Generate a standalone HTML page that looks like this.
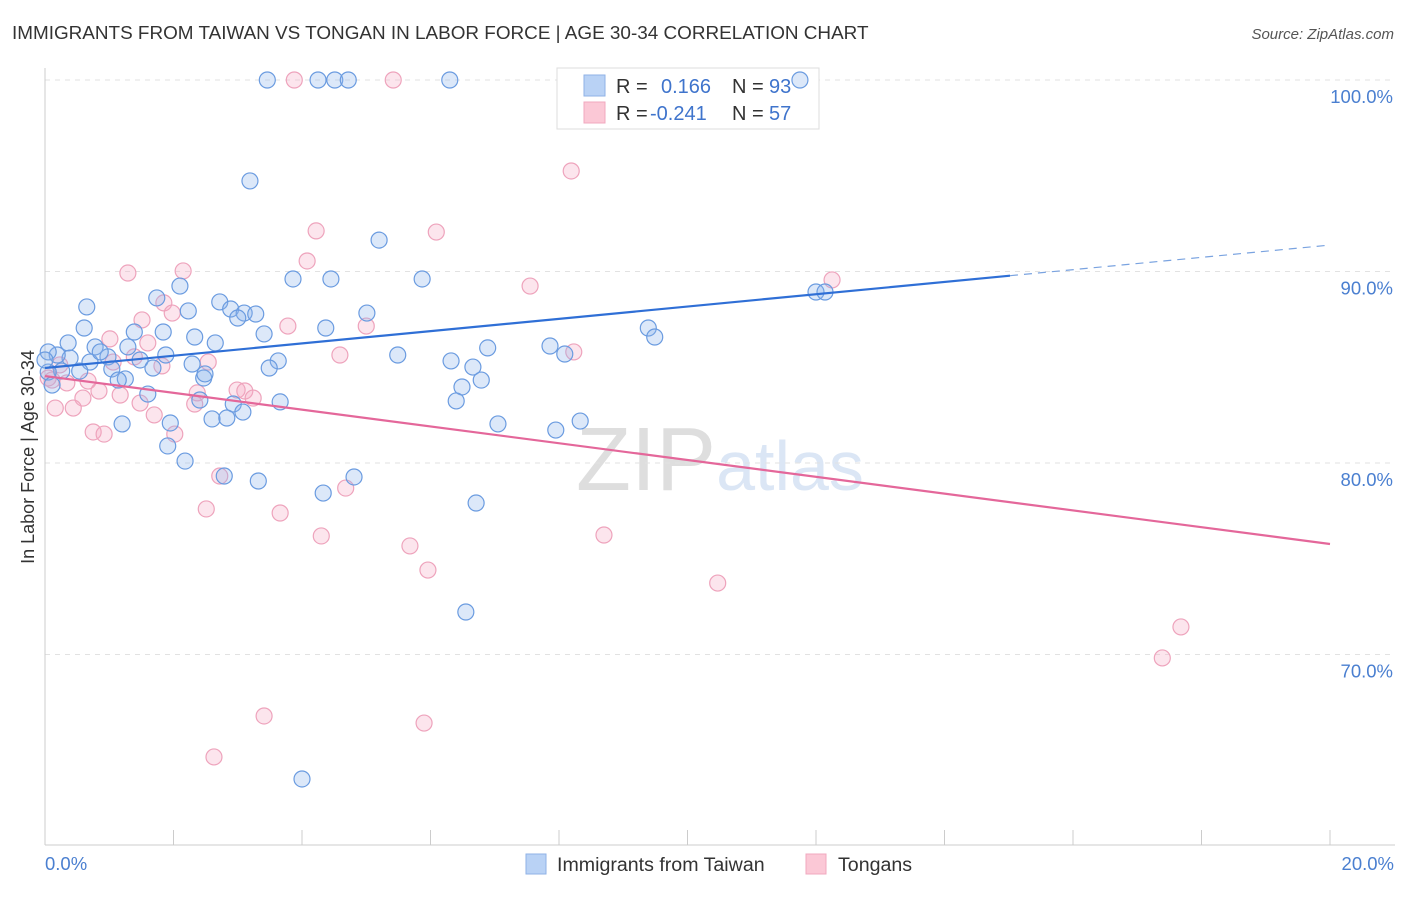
<!DOCTYPE html>
<html><head><meta charset="utf-8"><style>
body{margin:0;background:#fff;font-family:"Liberation Sans",sans-serif;}
svg text{font-family:"Liberation Sans",sans-serif;}
</style></head><body>
<svg id="chart" width="1406" height="892" viewBox="0 0 1406 892" xmlns="http://www.w3.org/2000/svg">
<text x="12" y="39" font-size="18.9" fill="#333">IMMIGRANTS FROM TAIWAN VS TONGAN IN LABOR FORCE | AGE 30-34 CORRELATION CHART</text>
<text x="1394" y="39" font-size="15" fill="#555" font-style="italic" text-anchor="end">Source: ZipAtlas.com</text>
<text x="720" y="490" font-size="90" fill="#e4e4e4" text-anchor="middle" font-family="Liberation Serif"><tspan fill="#dedede">ZIP</tspan><tspan fill="#dbe6f5" font-family="Liberation Sans" font-size="70">atlas</tspan></text>
<g id="grid"></g>
<g id="axes"></g>
<g>
<rect x="557" y="68" width="262" height="61" fill="#fff" stroke="#ddd"/>
<rect x="584" y="75" width="21" height="21" fill="#b9d2f5" stroke="#8fb2e6"/>
<rect x="584" y="102" width="21" height="21" fill="#fbc8d6" stroke="#f0a8bf"/>
<text x="616" y="93" font-size="20" fill="#333">R =</text>
<text x="661" y="93" font-size="20" fill="#3f74cc">0.166</text>
<text x="732" y="93" font-size="20" fill="#333">N =</text>
<text x="769" y="93" font-size="20" fill="#3f74cc">93</text>
<text x="616" y="120" font-size="20" fill="#333">R =</text>
<text x="650" y="120" font-size="20" fill="#3f74cc">-0.241</text>
<text x="732" y="120" font-size="20" fill="#333">N =</text>
<text x="769" y="120" font-size="20" fill="#3f74cc">57</text>
</g>
<g id="pinkPts"></g>
<g id="bluePts"></g>
<g id="trends"></g>
<text transform="translate(34,457) rotate(-90)" font-size="18" fill="#333" text-anchor="middle">In Labor Force | Age 30-34</text>
<g>
<rect x="526" y="854" width="20" height="20" fill="#b9d2f5" stroke="#8fb2e6"/>
<text x="557" y="871" font-size="19.6" fill="#333">Immigrants from Taiwan</text>
<rect x="806" y="854" width="20" height="20" fill="#fbc8d6" stroke="#f0a8bf"/>
<text x="838" y="871" font-size="19.6" fill="#333">Tongans</text>
</g>
</svg>
<script>
const blueX=[3.46,4.25,4.51,4.72,6.30,11.75,3.19,5.20,3.86,4.45,5.87,2.10,0.65,1.74,2.72,2.23,2.89,3.10,3.28,3.00,5.01,0.61,2.33,3.41,4.37,9.39,9.49,1.39,1.84,0.36,0.78,1.29,2.65,7.86,8.09,6.89,5.49,6.32,6.66,6.79,6.49,6.40,3.63,3.49,2.29,1.88,1.48,0.98,0.70,0.39,0.19,0.05,0.26,0.54,1.04,1.25,1.68,2.47,1.60,1.14,2.41,2.93,3.08,2.60,2.83,3.66,1.20,1.95,7.05,7.95,8.33,1.91,2.18,2.79,3.32,4.81,4.33,6.71,6.55,4.00,12.00,12.14,0.05,0.11,0.00,0.86,2.49];
const blueY=[100,100,100,100,100,100,94.73,91.64,89.61,89.61,89.61,89.24,88.15,88.62,88.41,87.94,88.04,87.83,87.78,87.57,87.83,87.05,86.58,86.74,87.05,87.05,86.58,86.84,86.84,86.27,86.06,86.06,86.27,86.11,85.69,86.01,85.64,85.33,85.01,84.33,83.97,83.24,85.33,84.96,85.17,85.64,85.38,85.54,85.27,85.48,85.64,85.80,84.80,84.80,84.91,84.39,84.96,84.44,83.60,84.33,83.29,83.08,82.66,82.30,82.35,83.19,82.04,82.09,82.04,81.72,82.19,80.89,80.10,79.32,79.06,79.27,78.43,77.91,72.22,63.50,88.93,88.93,84.75,84.07,85.38,85.80,84.65];
const pinkX=[3.88,5.42,8.19,4.22,6.09,4.08,1.29,2.15,7.55,12.25,1.85,1.98,1.51,3.78,5.00,1.01,1.39,1.60,1.82,2.54,4.59,8.23,0.11,0.34,0.67,0.84,1.17,0.59,1.48,0.44,0.16,2.37,2.33,2.99,3.11,3.24,1.70,2.02,0.75,0.92,2.72,2.51,3.66,4.68,4.30,5.68,5.96,8.70,10.47,17.68,17.39,3.41,5.90,2.63,0.05,0.23,1.06];
const pinkY=[100,100,95.25,92.12,92.06,90.55,89.92,90.03,89.24,89.56,88.36,87.83,87.47,87.15,87.15,86.48,85.54,86.27,85.07,85.27,85.64,85.80,84.33,84.18,84.28,83.76,83.55,83.39,83.13,82.87,82.87,83.66,83.08,83.81,83.76,83.39,82.51,81.51,81.62,81.51,79.32,77.60,77.39,78.69,76.19,75.67,74.41,76.24,73.73,71.44,69.82,66.79,66.42,64.65,84.44,85.12,85.27];
const blueTrend=[84.96,91.38];
const blueSolidEnd=15.02;
const pinkTrend=[84.54,75.77];
const yTicks=[100,90,80,70];
const yTickLabels=["100.0%","90.0%","80.0%","70.0%"];
const xLabels=["0.0%","20.0%"];

const NS="http://www.w3.org/2000/svg";
const sx=v=>45+v*64.25;
const sy=v=>80+(100-v)*19.15;
function mk(tag,attrs,parent){const e=document.createElementNS(NS,tag);for(const k in attrs)e.setAttribute(k,attrs[k]);document.getElementById(parent).appendChild(e);return e;}
yTicks.forEach((t,i)=>{
  const l=mk('line',{x1:45,x2:1395,y1:sy(t),y2:sy(t),stroke:'#e2e2e2','stroke-dasharray':'5,5'},'grid');
  
  
  const tx=mk('text',{x:1393,y:sy(t)+23,'font-size':18.5,fill:'#4a7fd0','text-anchor':'end'},'grid');
  tx.textContent=yTickLabels[i];
  
  
});
const ax=mk('line',{x1:45,x2:45,y1:68,y2:845,stroke:'#ccc'},'axes');


const bx=mk('line',{x1:45,x2:1395,y1:845,y2:845,stroke:'#ccc'},'axes');


for(let i=0;i<=10;i++){
  const t=mk('line',{x1:sx(i*2),x2:sx(i*2),y1:830,y2:845,stroke:'#ccc'},'axes');
  
  
}
const xl0=mk('text',{x:45,y:870,'font-size':18.5,fill:'#4a7fd0'},'axes');xl0.textContent=xLabels[0];


const xl1=mk('text',{x:1394,y:870,'font-size':18.5,fill:'#4a7fd0','text-anchor':'end'},'axes');xl1.textContent=xLabels[1];


pinkX.forEach((x,i)=>{
  const c=mk('circle',{cx:sx(x),cy:sy(pinkY[i]),r:8,fill:'rgba(246,170,196,0.3)',stroke:'#eea3bc','stroke-width':1.2},'pinkPts');
  
  
});
blueX.forEach((x,i)=>{
  const c=mk('circle',{cx:sx(x),cy:sy(blueY[i]),r:8,fill:'rgba(140,180,235,0.3)',stroke:'#6a9be0','stroke-width':1.2},'bluePts');
  
  
});
const by=x=>blueTrend[0]+(blueTrend[1]-blueTrend[0])*x/20;
const b1=mk('line',{x1:sx(0),y1:sy(by(0)),x2:sx(blueSolidEnd),y2:sy(by(blueSolidEnd)),stroke:'#2f6fd6','stroke-width':2.2},'trends');


const b2=mk('line',{x1:sx(blueSolidEnd),y1:sy(by(blueSolidEnd)),x2:sx(20),y2:sy(by(20)),stroke:'#7aa3e0','stroke-width':1.2,'stroke-dasharray':'8,6'},'trends');


const p1=mk('line',{x1:sx(0),y1:sy(pinkTrend[0]),x2:sx(20),y2:sy(pinkTrend[1]),stroke:'#e4679a','stroke-width':2.2},'trends');


</script>
</body></html>
